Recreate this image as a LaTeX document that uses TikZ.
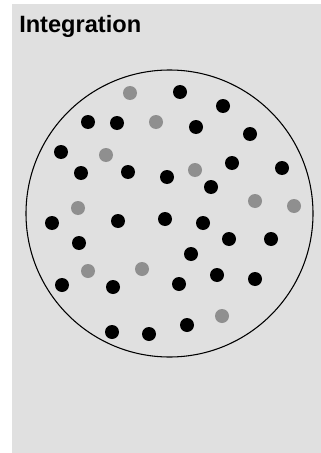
\documentclass[tikz,border=0pt]{standalone}
\usepackage{fontspec}
\setmainfont{Liberation Sans}
\usetikzlibrary{positioning}
\definecolor{PanelGray}{HTML}{E0E0E0}
\definecolor{Ink}{HTML}{000000}
\definecolor{Muted}{HTML}{8F8F8F}

\begin{document}
\begin{tikzpicture}[x=0.75pt, y=-0.75pt,
    every node/.style={circle,inner sep=0pt},
    dot/.style={fill=Ink,minimum size=10.5pt},
    pale/.style={fill=Muted,minimum size=10.5pt}]
    \useasboundingbox (0,0) rectangle (321,453);
    \fill[PanelGray] (12,4) rectangle (321,453);
    \node[rectangle,anchor=base west,font=\bfseries\fontsize{17.7}{20}\selectfont] (title) at (19,33) {Integration};
    \node[draw=Ink,line width=0.8pt,minimum size=215.25pt] (field) at (169.5,213.5) {};
    \foreach \x/\y [count=\i] in {180/92,223/106,88/122,117/123,196/127,250/134,
      61/152,81/173,128/172,232/163,282/168,167/177,211/187,52/223,118/221,
      165/219,203/223,79/243,229/239,271/239,191/254,62/285,113/287,179/284,
      217/275,255/279,112/332,149/334,187/325}{
      \node[dot] (b\i) at (\x,\y) {};
    }
    \foreach \x/\y [count=\i] in {130/93,156/122,106/155,195/170,78/208,
      255/201,294/206,88/271,142/269,222/316}{
      \node[pale] (g\i) at (\x,\y) {};
    }
  \end{tikzpicture}
\end{document}
